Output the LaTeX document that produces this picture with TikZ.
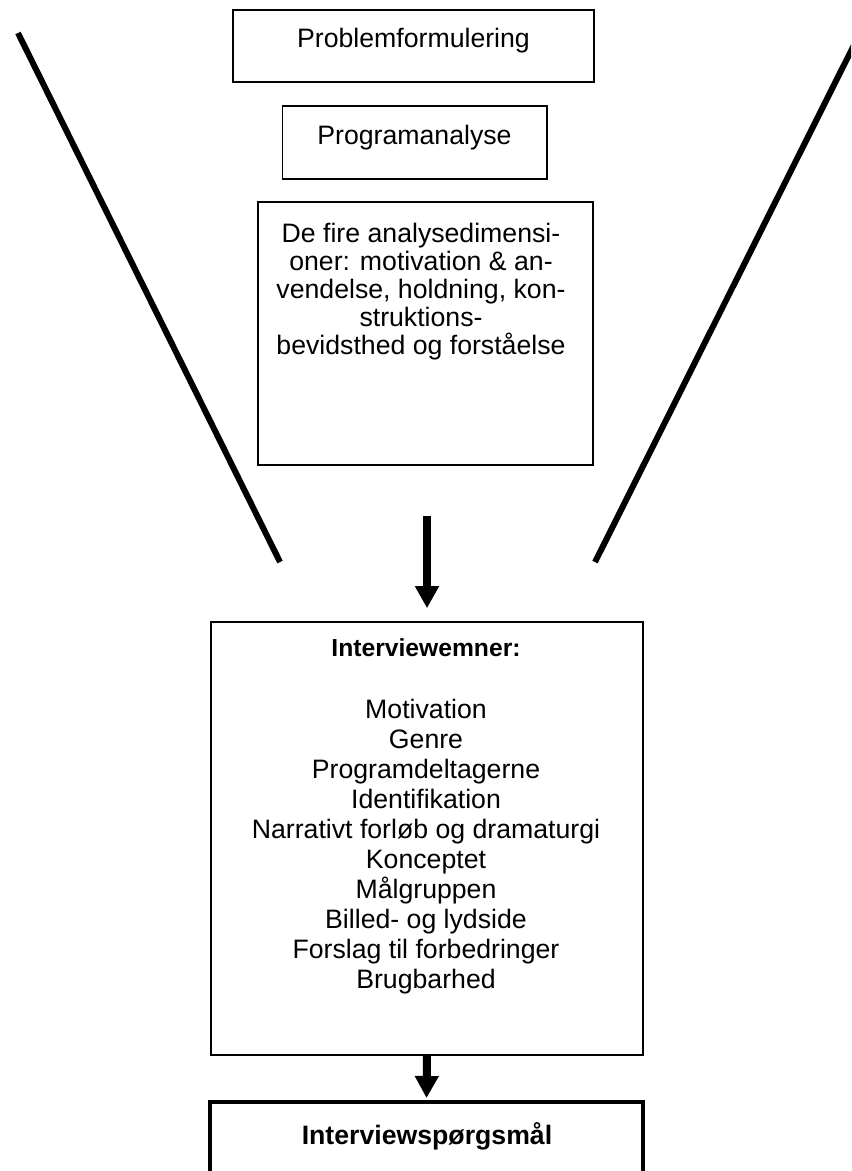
\documentclass[tikz,border=0pt]{standalone}
\usepackage{fontspec}
\setmainfont{Liberation Sans}
\usetikzlibrary{arrows.meta}

\tikzset{
  box/.style={draw, line width=1.2pt, inner sep=0pt},
  txt/.style={inner sep=0pt, align=center, font=\fontsize{20}{22.5}\selectfont},
  flow/.style={line width=6pt, -{Triangle[width=17pt,length=16.5pt]}},
  wing/.style={line width=4.5pt}
}

\begin{document}
\begin{tikzpicture}[x=0.75pt, y=-0.75pt]
  \useasboundingbox (0,0) rectangle (851,1171);
  \clip (0,0) rectangle (851,1171);
  % funnel
  \draw[wing] (18,33) -- (280,562);
  \draw[wing] (860,33) -- (595,562);
  % boxes
  \node[box, minimum width=270.75pt, minimum height=54pt] (prob) at (413.75,46) {};
  \node[box, minimum width=198.3pt, minimum height=54.75pt] (prog) at (414.5,142.5) {};
  \node[box, minimum width=251pt, minimum height=197.25pt] (fire) at (425.6,333.5) {};
  \node[box, minimum width=324pt, minimum height=324.75pt] (emner) at (427,838.5) {};
  \node[box, line width=3pt, minimum width=324.75pt, minimum height=96pt] (sporg) at (426.5,1166) {};
  % texts
  \node[txt, anchor=north] (probtxt) at (413.5,28) {Problemformulering};
  \node[txt, anchor=north] (progtxt) at (414.5,125) {Programanalyse};
  \node[txt, anchor=north, font=\fontsize{20}{21}\selectfont] (firetxt) at (421,223)
    {De fire analysedimensi-\\oner: motivation \& an-\\vendelse, holdning, kon-\\struktions-\\bevidsthed og forståelse};
  \node[txt, anchor=north] (emnertxt) at (426,638.5)
    {{\fontsize{18.5}{22.5}\selectfont\bfseries Interviewemner:}\\[24pt]Motivation\\Genre\\Programdeltagerne\\Identifikation\\Narrativt forløb og dramaturgi\\Konceptet\\Målgruppen\\Billed- og lydside\\Forslag til forbedringer\\Brugbarhed};
  \node[txt, anchor=north] (sporgtxt) at (427,1122.5) {\textbf{Interviewspørgsmål}};
  % arrows
  \draw[flow, shorten <=37.5pt, shorten >=9.75pt] (fire.south -| emner.north) -- (emner.north);
  \draw[flow, shorten >=1.5pt] (emner.south) -- (sporg.north);
\end{tikzpicture}
\end{document}
